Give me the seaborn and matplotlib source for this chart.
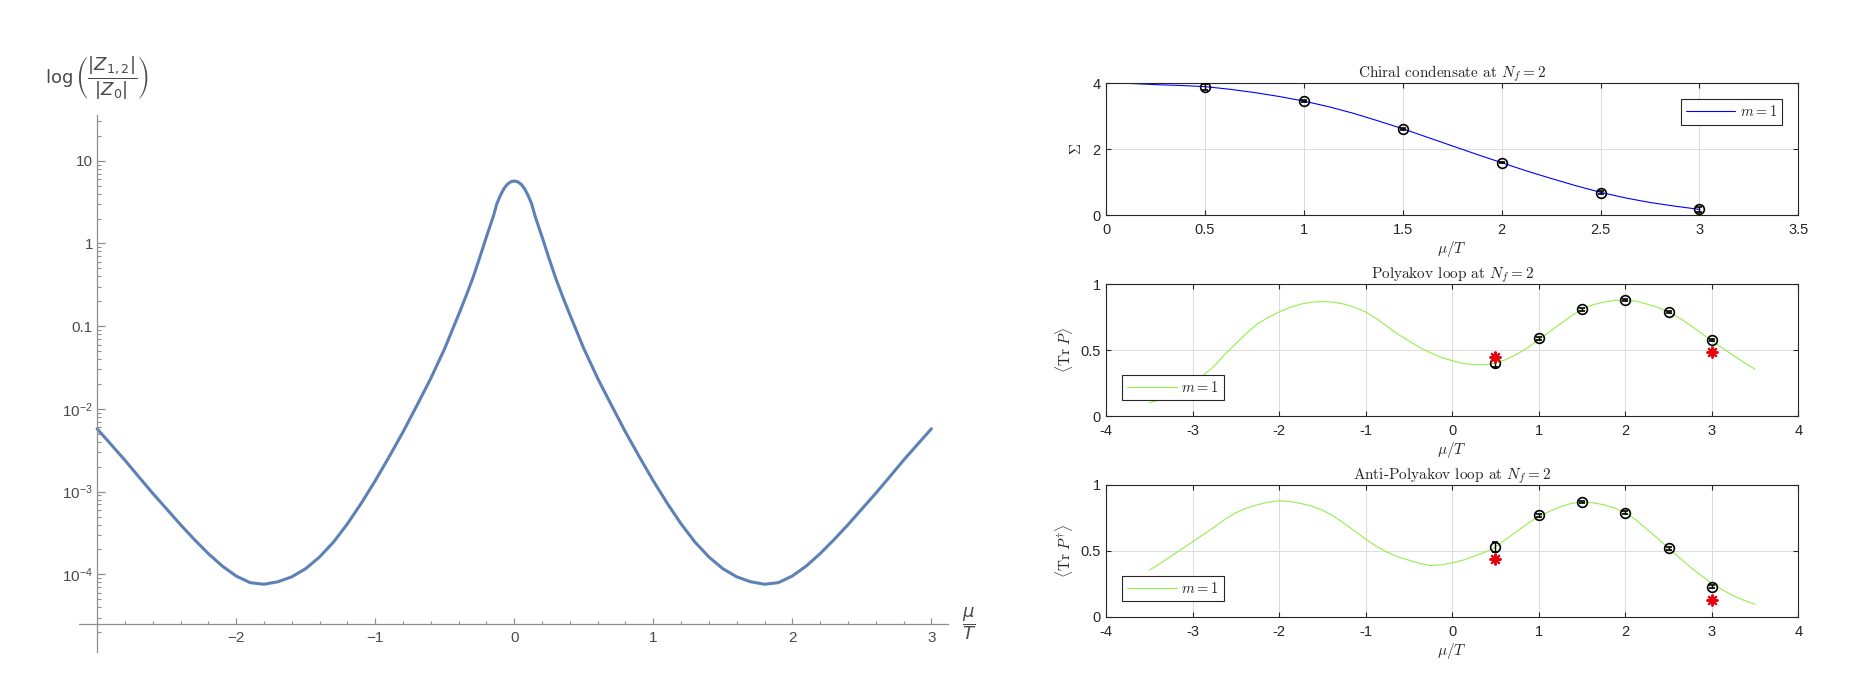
import numpy as np
import seaborn as sns
import matplotlib.pyplot as plt
from matplotlib.ticker import FixedLocator, MultipleLocator, LogLocator, FuncFormatter, NullFormatter

# left: |Z_{1,2}| / |Z_0| against mu/T (log axis)
ratio_mu = [-3.0, -2.9, -2.8, -2.7, -2.6, -2.5, -2.4, -2.3, -2.2, -2.1, -2.0, -1.9,
            -1.8, -1.7, -1.6, -1.5, -1.4, -1.3, -1.2, -1.1, -1.0, -0.9, -0.8, -0.7,
            -0.6, -0.5, -0.4, -0.35, -0.3, -0.25, -0.2, -0.15, -0.125, -0.1, -0.075,
            -0.05, -0.025, 0.0, 0.025, 0.05, 0.075, 0.1, 0.125, 0.15, 0.2, 0.25, 0.3,
            0.35, 0.4, 0.5, 0.6, 0.7, 0.8, 0.9, 1.0, 1.1, 1.2, 1.3, 1.4, 1.5, 1.6,
            1.7, 1.8, 1.9, 2.0, 2.1, 2.2, 2.3, 2.4, 2.5, 2.6, 2.7, 2.8, 2.9, 3.0]
ratio_val = [5.75e-3, 3.72e-3, 2.40e-3, 1.51e-3, 9.55e-4, 6.17e-4, 3.98e-4, 2.63e-4,
             1.78e-4, 1.26e-4, 9.55e-5, 7.94e-5, 7.59e-5, 8.13e-5, 9.33e-5, 1.17e-4,
             1.62e-4, 2.45e-4, 4.07e-4, 7.24e-4, 1.35e-3, 2.63e-3, 5.25e-3, 1.10e-2,
             2.34e-2, 5.37e-2, 0.138, 0.224, 0.372, 0.661, 1.20, 2.14, 3.02, 3.80,
             4.57, 5.19, 5.56, 5.69, 5.56, 5.19, 4.57, 3.80, 3.02, 2.14, 1.20, 0.661,
             0.372, 0.224, 0.138, 5.37e-2, 2.34e-2, 1.10e-2, 5.25e-3, 2.63e-3, 1.35e-3,
             7.24e-4, 4.07e-4, 2.45e-4, 1.62e-4, 1.17e-4, 9.33e-5, 8.13e-5, 7.59e-5,
             7.94e-5, 9.55e-5, 1.26e-4, 1.78e-4, 2.63e-4, 3.98e-4, 6.17e-4, 9.55e-4,
             1.51e-3, 2.40e-3, 3.72e-3, 5.75e-3]
ratio_ticks = [1e-4, 1e-3, 1e-2, 0.1, 1, 10]

# right top: chiral condensate
chiral_mu = [0.0, 0.125, 0.25, 0.375, 0.5, 0.625, 0.75, 0.875, 1.0, 1.125, 1.25, 1.375,
             1.5, 1.625, 1.75, 1.875, 2.0, 2.125, 2.25, 2.375, 2.5, 2.625, 2.75, 2.875, 3.0]
chiral_curve = [4.00, 3.995, 3.96, 3.935, 3.90, 3.82, 3.72, 3.60, 3.46, 3.29, 3.09, 2.86,
                2.62, 2.36, 2.10, 1.84, 1.59, 1.34, 1.11, 0.89, 0.69, 0.52, 0.38, 0.27, 0.17]
sample_mu = [0.5, 1.0, 1.5, 2.0, 2.5, 3.0]
chiral_pts = [3.90, 3.46, 2.61, 1.59, 0.68, 0.17]
chiral_err = [0.09, 0.02, 0.02, 0.02, 0.05, 0.08]

# right middle / bottom: Polyakov and anti-Polyakov loop
loop_mu = [-3.5, -3.375, -3.25, -3.125, -3.0, -2.875, -2.75, -2.625, -2.5, -2.375,
           -2.25, -2.125, -2.0, -1.875, -1.75, -1.625, -1.5, -1.375, -1.25, -1.125,
           -1.0, -0.875, -0.75, -0.625, -0.5, -0.375, -0.25, -0.125, 0.0, 0.125, 0.25,
           0.375, 0.5, 0.625, 0.75, 0.875, 1.0, 1.125, 1.25, 1.375, 1.5, 1.625, 1.75,
           1.875, 2.0, 2.125, 2.25, 2.375, 2.5, 2.625, 2.75, 2.875, 3.0, 3.125, 3.25,
           3.375, 3.5]
polyakov_curve = [0.10, 0.125, 0.16, 0.20, 0.25, 0.31, 0.38, 0.47, 0.55, 0.63, 0.70,
                  0.75, 0.79, 0.825, 0.85, 0.865, 0.87, 0.865, 0.85, 0.825, 0.79, 0.74,
                  0.68, 0.62, 0.57, 0.52, 0.48, 0.445, 0.42, 0.40, 0.39, 0.39, 0.40,
                  0.43, 0.47, 0.52, 0.58, 0.64, 0.70, 0.76, 0.81, 0.845, 0.865, 0.878,
                  0.88, 0.872, 0.85, 0.825, 0.79, 0.745, 0.69, 0.63, 0.57, 0.515, 0.46,
                  0.405, 0.355]
anti_curve = [0.355, 0.405, 0.46, 0.515, 0.57, 0.625, 0.68, 0.74, 0.79, 0.825, 0.85,
              0.87, 0.88, 0.875, 0.86, 0.84, 0.81, 0.765, 0.71, 0.65, 0.59, 0.535, 0.49,
              0.455, 0.43, 0.405, 0.39, 0.395, 0.41, 0.43, 0.46, 0.49, 0.53, 0.59, 0.65,
              0.71, 0.76, 0.80, 0.835, 0.86, 0.87, 0.865, 0.85, 0.825, 0.79, 0.735,
              0.665, 0.595, 0.52, 0.45, 0.38, 0.315, 0.255, 0.205, 0.16, 0.125, 0.096]
polyakov_pts = [0.40, 0.59, 0.81, 0.88, 0.79, 0.577]
polyakov_err = [0.03, 0.01, 0.01, 0.01, 0.01, 0.01]
anti_pts = [0.53, 0.77, 0.87, 0.79, 0.52, 0.23]
anti_err = [0.04, 0.01, 0.01, 0.01, 0.01, 0.01]
star_mu = [0.5, 3.0]
polyakov_star = [0.45, 0.49]
anti_star = [0.44, 0.13]

sns.set_style("ticks")
plt.rcParams['font.family'] = ['Liberation Sans', 'DejaVu Sans']
plt.rcParams['mathtext.fontset'] = 'cm'
plt.rcParams['mathtext.rm'] = 'Liberation Sans'
plt.rcParams['mathtext.it'] = 'Liberation Sans:italic'
plt.rcParams['mathtext.bf'] = 'Liberation Sans:bold'
plt.rcParams['axes.unicode_minus'] = False

fig = plt.figure(figsize=(18.69, 6.92), dpi=100)

# ---------------- left panel (Mathematica look) ----------------
gray = '#8f8f8f'
lab = '#4a4a4a'
ax0 = fig.add_axes([0.04227, 0.0582, 0.4650, 0.7756])
sns.lineplot(x=ratio_mu, y=ratio_val, ax=ax0, color='#5E81B5', linewidth=2.2,
             estimator=None, sort=False)
ax0.set_yscale('log')
ax0.set_xlim(-3.13, 3.12)
ax0.set_ylim(1.16e-5, 35.7)
for s in ['top', 'right']:
    ax0.spines[s].set_visible(False)
ax0.spines['left'].set_position(('data', -3))
ax0.spines['bottom'].set_position(('data', 2.5e-5))
for s in ['left', 'bottom']:
    ax0.spines[s].set_color(gray)
    ax0.spines[s].set_linewidth(0.9)
ax0.xaxis.set_major_locator(FixedLocator([-2, -1, 0, 1, 2, 3]))
ax0.xaxis.set_minor_locator(MultipleLocator(0.2))
ax0.xaxis.set_major_formatter(FuncFormatter(lambda v, p: '\u2212%d' % -v if v < 0 else '%d' % v))
ax0.yaxis.set_major_locator(FixedLocator(ratio_ticks))
ax0.yaxis.set_minor_locator(LogLocator(base=10, subs=np.arange(2, 10)))
ax0.yaxis.set_minor_formatter(NullFormatter())


def ratio_fmt(v, p):
    if v >= 0.1:
        return '%g' % v
    return r'$10^{%d}$' % int(round(np.log10(v)))


ax0.yaxis.set_major_formatter(FuncFormatter(ratio_fmt))
ax0.tick_params(axis='x', which='major', direction='in', length=4.5, width=0.9,
                color=gray, labelcolor=lab, labelsize=11, pad=5, bottom=True)
ax0.tick_params(axis='x', which='minor', direction='in', length=2.5, width=0.8,
                color=gray, bottom=True)
ax0.tick_params(axis='y', which='major', direction='in', length=6, width=0.9,
                color=gray, labelcolor=lab, labelsize=11, pad=3, left=True)
ax0.tick_params(axis='y', which='minor', direction='in', length=3, width=0.8,
                color=gray, left=True)
for t in ax0.get_yticklabels():
    t.set_math_fontfamily('custom')
ax0.text(-3.0, 100, r'$\log\left(\dfrac{|Z_{1,2}|}{|Z_0|}\right)$', ha='center', va='center',
         fontsize=13, color=lab, math_fontfamily='dejavusans', clip_on=False)
ax0.text(3.27, 2.5e-5, r'$\dfrac{\mu}{T}$', ha='center', va='center',
         fontsize=13, color=lab, math_fontfamily='dejavusans', clip_on=False)

# ---------------- right panels (MATLAB look) ----------------
edge = '#262626'
green = '#93F04C'


def matlab_axes(rect):
    ax = fig.add_axes(rect)
    for s in ax.spines.values():
        s.set_color(edge)
        s.set_linewidth(0.8)
    ax.grid(True, color='#dcdcdc', linewidth=0.7)
    ax.set_axisbelow(True)
    ax.tick_params(direction='in', length=3.5, width=0.8, color=edge, labelcolor=edge,
                   labelsize=10.5, top=True, right=True, bottom=True, left=True)
    ax.tick_params(axis='x', pad=6)
    ax.tick_params(axis='y', pad=4)
    return ax


def matlab_legend(ax, loc):
    leg = ax.legend(loc=loc, frameon=True, fancybox=False, framealpha=1,
                    edgecolor=edge, fontsize=10.5, handlelength=3.4,
                    handletextpad=0.3, borderpad=0.35, borderaxespad=1.1)
    leg.get_frame().set_linewidth(0.8)
    for t in leg.get_texts():
        t.set_math_fontfamily('cm')


def samples(ax, pts, err):
    ax.errorbar(sample_mu, pts, yerr=err, fmt='o', ms=7, mfc='none', mec='k',
                mew=1.2, ecolor='k', elinewidth=1.0, capsize=2.5, capthick=1.0, zorder=4)


def cm_text(ax, title, xlab, ylab, ylabpad):
    ax.set_title(title, fontsize=11, pad=4, fontfamily='cmr10', math_fontfamily='cm')
    ax.set_xlabel(xlab, fontsize=11, labelpad=1, math_fontfamily='cm')
    ax.set_ylabel(ylab, fontsize=11, labelpad=ylabpad, fontfamily='cmr10',
                  math_fontfamily='cm')


left, width = 0.5918, 0.3704

ax1 = matlab_axes([left, 0.6893, width, 0.1903])
sns.lineplot(x=chiral_mu, y=chiral_curve, ax=ax1, color='#0000FF', linewidth=0.8,
             estimator=None, sort=False, label=r'$m = 1$')
samples(ax1, chiral_pts, chiral_err)
ax1.set_xlim(0, 3.5)
ax1.set_ylim(0, 4)
ax1.set_xticks([0, 0.5, 1, 1.5, 2, 2.5, 3, 3.5])
ax1.set_xticklabels(['0', '0.5', '1', '1.5', '2', '2.5', '3', '3.5'])
ax1.set_yticks([0, 2, 4])
cm_text(ax1, r'Chiral condensate at $N_f = 2$', r'$\mu/T$', r'$\Sigma$', 6)
matlab_legend(ax1, 'upper right')

for rect, curve, pts, err, stars, ylab, ttl in [
        ([left, 0.3988, width, 0.1903], polyakov_curve, polyakov_pts, polyakov_err,
         polyakov_star, r'$\langle \mathrm{Tr}\ P \rangle$',
         r'Polyakov loop at $N_f = 2$'),
        ([left, 0.1084, width, 0.1908], anti_curve, anti_pts, anti_err,
         anti_star, r'$\langle \mathrm{Tr}\ P^{\dagger} \rangle$',
         r'Anti-Polyakov loop at $N_f = 2$')]:
    ax = matlab_axes(rect)
    sns.lineplot(x=loop_mu, y=curve, ax=ax, color=green, linewidth=0.8,
                 estimator=None, sort=False, label=r'$m = 1$')
    samples(ax, pts, err)
    ax.plot(star_mu, stars, linestyle='none', marker=(8, 2, 0), ms=8.5, mec='#E8000B',
            mew=1.4, zorder=5)
    ax.set_xlim(-4, 4)
    ax.set_ylim(0, 1)
    ax.set_xticks([-4, -3, -2, -1, 0, 1, 2, 3, 4])
    ax.set_yticks([0, 0.5, 1])
    ax.set_yticklabels(['0', '0.5', '1'])
    cm_text(ax, ttl, r'$\mu/T$', ylab, 4)
    matlab_legend(ax, 'lower left')

fig.savefig('out.png', dpi=100, facecolor='white')
